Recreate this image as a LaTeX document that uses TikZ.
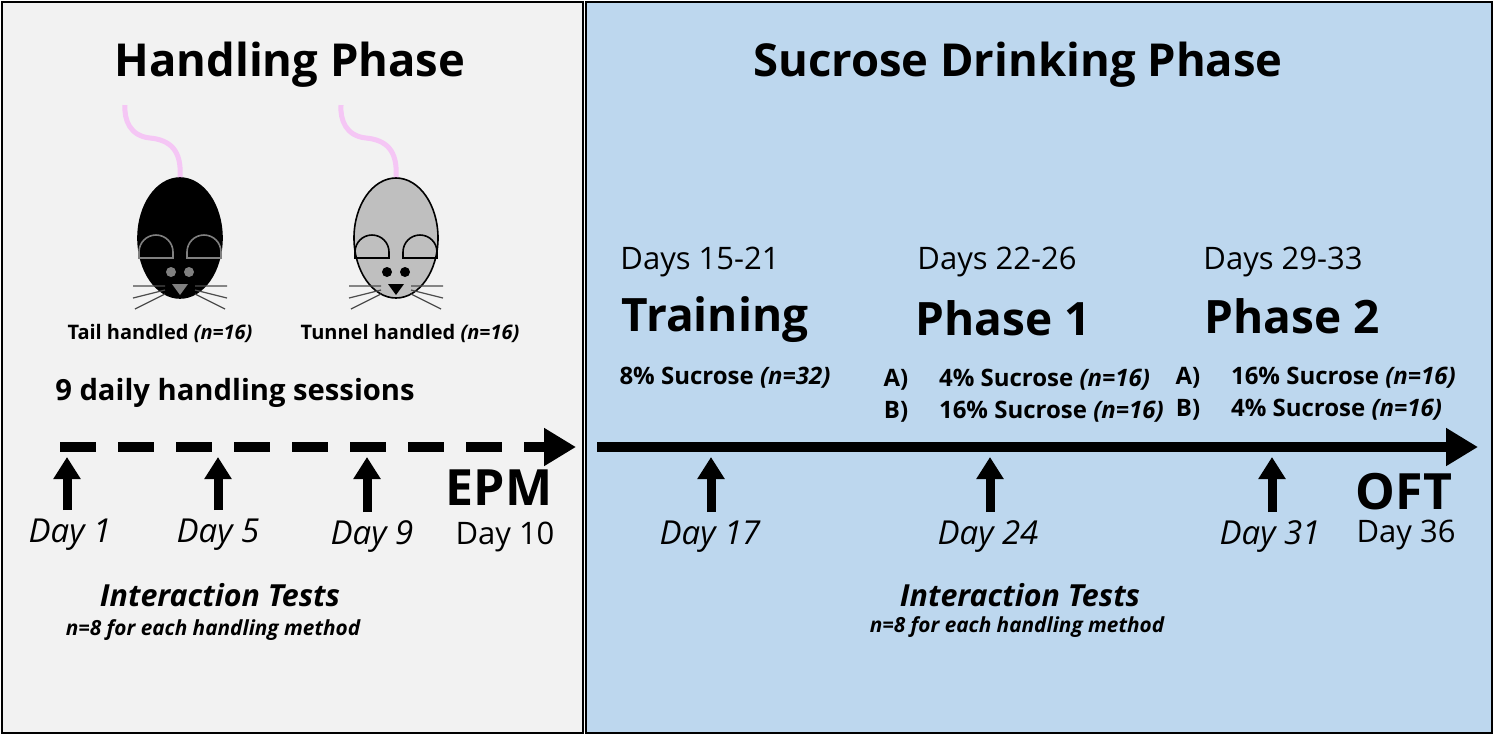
\documentclass[tikz,border=0pt]{standalone}
\usepackage{fontspec}
\setmainfont{Open Sans}
\usetikzlibrary{arrows.meta}
\definecolor{lbg}{HTML}{F2F2F2}
\definecolor{rbg}{HTML}{BDD7EE}
\definecolor{tailc}{HTML}{F5C6F5}
\tikzset{
 ttl/.style={font=\fontsize{22.7}{24}\selectfont\bfseries},
 big/.style={font=\fontsize{23}{26}\selectfont\bfseries},
 days/.style={font=\fontsize{15.5}{17}\selectfont},
 dayi/.style={font=\fontsize{16.5}{18}\selectfont\itshape},
 lab/.style={font=\fontsize{10}{12}\selectfont\bfseries},
 sess/.style={font=\fontsize{14.6}{16}\selectfont\bfseries},
 suc/.style={font=\fontsize{12}{14}\selectfont\bfseries},
 it/.style={font=\fontsize{15.2}{17}\selectfont\bfseries\itshape},
 nsm/.style={font=\fontsize{10.4}{12}\selectfont\bfseries\itshape},
 upar/.style={line width=4.5pt,-{Triangle[length=11pt,width=13pt]}},
 tl/.style={line width=5pt,-{Triangle[length=16pt,width=18pt]}},
}
\newcommand{\mymouse}[4]{% x, body fill, line color, eye color
 \begin{scope}[shift={(#1,0)}]
 \draw[tailc,line width=2.5pt] (0,178) .. controls (2,150) and (-10,140) .. (-30,138) .. controls (-50,136) and (-56,120) .. (-55,105);
 \draw[fill=#2,draw=black,line width=0.8pt] (0,238) ellipse (42 and 60);
 \draw[#3,line width=0.8pt] (-41,258) -- (-41,252) arc (180:360:17) -- (-7,258) -- cycle;
 \draw[#3,line width=0.8pt] (41,258) -- (41,252) arc (0:-180:17) -- (7,258) -- cycle;
 \fill[#4] (-9,272) circle (5) (9,272) circle (5);
 \fill[#4] (-8,284) -- (8,284) -- (0,295) -- cycle;
 \draw[black!70,line width=0.6pt] (-15,286)--(-47,286) (-15,290)--(-47,298) (-15,294)--(-45,309)
   (15,286)--(47,286) (15,290)--(47,298) (15,294)--(45,309);
 \end{scope}}
\begin{document}
\begin{tikzpicture}[x=0.5pt,y=-0.5pt]
\useasboundingbox (0,0) rectangle (1500,736);
\draw[fill=lbg,line width=0.8pt] (2,2) rectangle (583,733);
\draw[fill=rbg,line width=0.8pt] (586,2) rectangle (1492,733);
\node[ttl] (t1) at (290,65) {Handling Phase};
\node[ttl] (t2) at (1018,65) {Sucrose Drinking Phase};
\mymouse{180}{black}{black!50}{black!50}
\mymouse{396}{black!25}{black}{black}
\node[lab] (l1) at (160,333) {Tail handled \textit{(n=16)}};
\node[lab] (l2) at (410,333) {Tunnel handled \textit{(n=16)}};
\node[sess] (s) at (235,393) {9 daily handling sessions};
% timelines
\coordinate (a0) at (60,447); \coordinate (a1) at (576,447);
\draw[tl,dash pattern=on 18pt off 11pt] (a0) -- (a1);
\coordinate (b0) at (597,447); \coordinate (b1) at (1478,447);
\draw[tl] (b0) -- (b1);
% left labels
\node[dayi] (d1) at (70,535) {Day 1};
\node[dayi] (d5) at (218,535) {Day 5};
\node[dayi] (d9) at (372,537) {Day 9};
\node[big,font=\fontsize{25}{28}\selectfont\bfseries] (epm) at (499,488) {EPM};
\node[days] (d10) at (505,537) {Day 10};
\foreach \n/\x in {d1/67,d5/218,d9/367}{
 \coordinate (u\n) at (\x,457);
 \draw[upar] (\n.north -| u\n) ++(0,-2) -- (u\n);}
\node[it] (it1) at (220,595) {Interaction Tests};
\node[nsm] (n1) at (213,630) {n=8 for each handling method};
% right labels
\node[days] (p0) at (700,262) {Days 15-21};
\node[big] (tr) at (715,320) {Training};
\node[suc] (s0) at (725,378) {8\% Sucrose \textit{(n=32)}};
\node[days] (p1) at (997,262) {Days 22-26};
\node[big] (ph1) at (1003,318) {Phase 1};
\node[suc] (a1l) at (896,380) {A)};
\node[suc] (b1l) at (896,412) {B)};
\node[suc,anchor=west] (a1t) at (932,380) {4\% Sucrose \textit{(n=16)}};
\node[suc,anchor=west] (b1t) at (932,412) {16\% Sucrose \textit{(n=16)}};
\node[days] (p2) at (1283,262) {Days 29-33};
\node[big] (ph2) at (1292,316) {Phase 2};
\node[suc] (a2l) at (1188,378) {A)};
\node[suc] (b2l) at (1188,410) {B)};
\node[suc,anchor=west] (a2t) at (1224,378) {16\% Sucrose \textit{(n=16)}};
\node[suc,anchor=west] (b2t) at (1224,410) {4\% Sucrose \textit{(n=16)}};
\node[dayi] (d17) at (710,537) {Day 17};
\node[dayi] (d24) at (988,537) {Day 24};
\node[dayi] (d31) at (1270,537) {Day 31};
\node[big,font=\fontsize{25}{28}\selectfont\bfseries] (oft) at (1404,492) {OFT};
\node[days] (d36) at (1406,535) {Day 36};
\foreach \n/\x in {d17/711,d24/990,d31/1272}{
 \coordinate (u\n) at (\x,457);
 \draw[upar] (\n.north -| u\n) ++(0,-2) -- (u\n);}
\node[it] (it2) at (1020,595) {Interaction Tests};
\node[nsm] (n2) at (1017,627) {n=8 for each handling method};
\end{tikzpicture}
\end{document}
